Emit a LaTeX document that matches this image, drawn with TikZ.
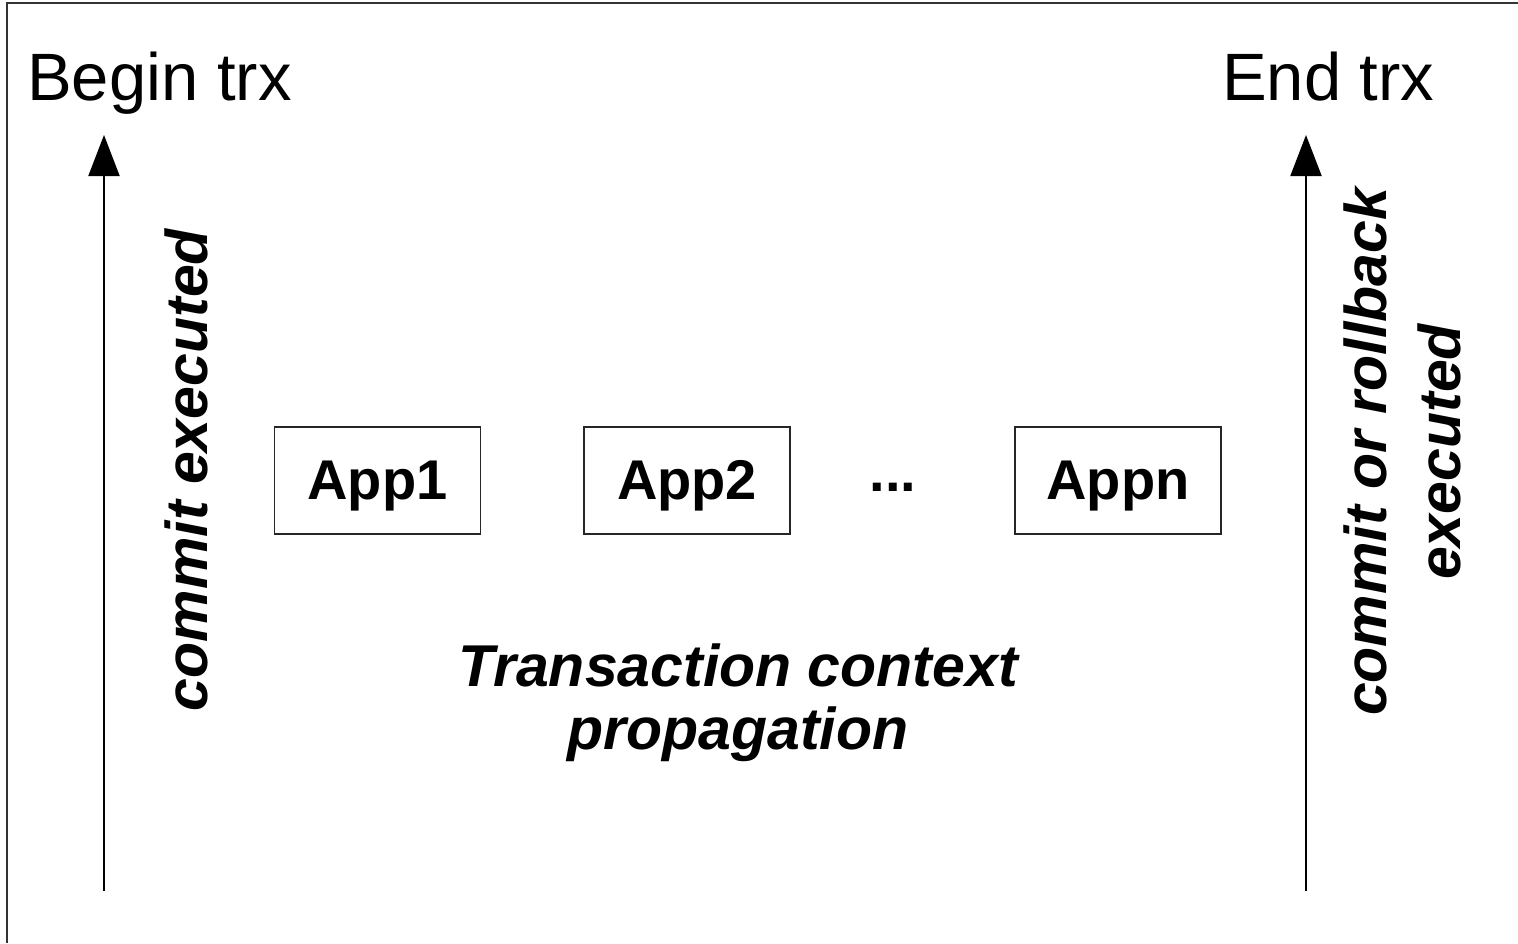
\documentclass[tikz,border=0pt]{standalone}
\usepackage{fontspec}
\setmainfont{Liberation Sans}
\usetikzlibrary{arrows.meta}
\begin{document}
\begin{tikzpicture}[x=1pt,y=-1pt,
  frameline/.style={draw=black!80,line width=1.6pt},
  flow/.style={draw=black,line width=2pt,-{Triangle[width=31pt,length=41pt]}},
  appbox/.style={draw=black!85,line width=1.4pt,minimum width=206pt,minimum height=107pt,
    inner sep=0pt,text depth=0.1em,font=\fontsize{56}{60}\selectfont\bfseries},
  endlabel/.style={anchor=base west,inner sep=0pt,font=\fontsize{67}{70}\selectfont},
  note/.style={inner sep=0pt,font=\fontsize{59}{63}\selectfont\bfseries\itshape}]
\useasboundingbox (0,0) rectangle (1518,943);
\path[fill=white] (0,0) rectangle (1518,943);

% frame edges
\coordinate (tl) at (7,3);
\coordinate (tr) at (1518,3);
\coordinate (bl) at (7,943);
\draw[frameline] (tr) -- (tl) -- (bl);

% start and end of the transaction
\node[endlabel] (begin) at (27,100) {Begin trx};
\node[endlabel] (end) at (1222,100) {End trx};

\coordinate (bfoot) at (104,891);
\coordinate (btip) at (104,135);
\coordinate (efoot) at (1306,891);
\coordinate (etip) at (1306,135);
\draw[flow] (bfoot) -- (btip);
\draw[flow] (efoot) -- (etip);

\node[note,rotate=90,anchor=base] (commitL) at (207,470) {commit executed};
\node[note,rotate=90,align=center,font=\fontsize{59}{74}\selectfont\bfseries\itshape]
  (commitR) at (1402,452) {commit or rollback\\executed};

% participating applications
\node[appbox] (app1) at (377.5,480.5) {App1};
\node[appbox] (app2) at (687,480.5) {App2};
\node[appbox,draw=none,yshift=-7pt] (dots) at (893,480.5) {...};
\node[appbox] (appn) at (1118,480.5) {Appn};

\node[note,align=center] (ctx) at (738,703) {Transaction context\\propagation};
\end{tikzpicture}
\end{document}
